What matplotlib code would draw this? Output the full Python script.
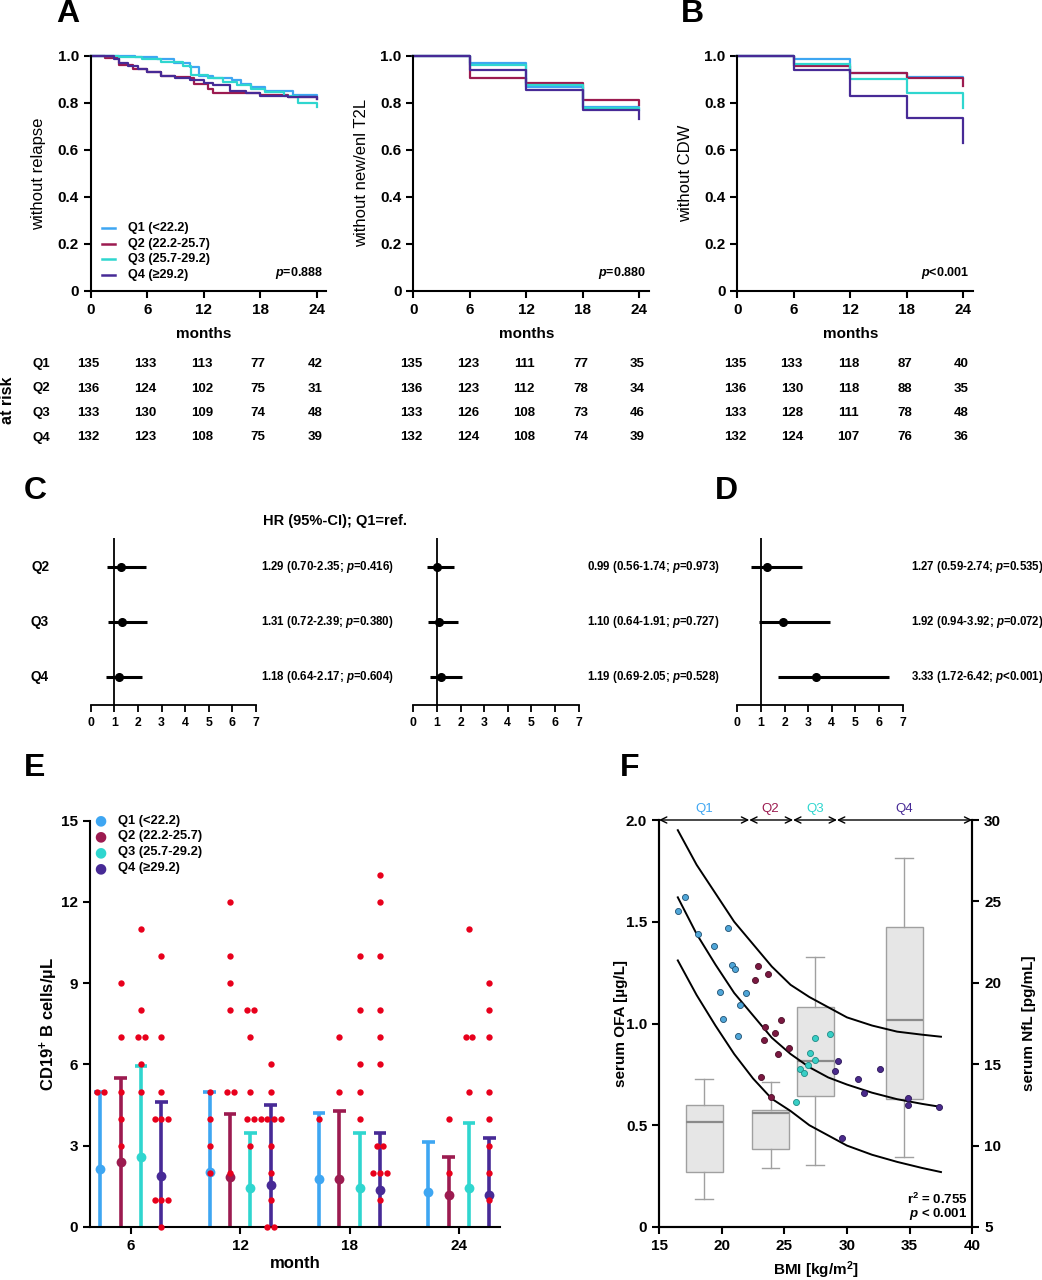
import numpy as np
import matplotlib.pyplot as plt
from matplotlib.lines import Line2D
from collections import Counter

plt.rcParams['font.family'] = ['Liberation Sans', 'DejaVu Sans']
plt.rcParams['font.weight'] = 'bold'
plt.rcParams['axes.labelweight'] = 'bold'
plt.rcParams['mathtext.fontset'] = 'custom'
plt.rcParams['mathtext.rm'] = 'Liberation Sans:bold'
plt.rcParams['mathtext.it'] = 'Liberation Sans:italic:bold'
plt.rcParams['mathtext.bf'] = 'Liberation Sans:bold'

W, H = 1042, 1280

q_names = ['Q1', 'Q2', 'Q3', 'Q4']
q_labels = ['Q1 (<22.2)', 'Q2 (22.2-25.7)', 'Q3 (25.7-29.2)', 'Q4 (≥29.2)']
q_colors = ['#3ea6f2', '#9c1b50', '#2fd6cf', '#472a96']

# ---- Kaplan-Meier: relapse (step times / survival per quartile)
rel_t = {
    'Q1': [0, 4.7, 7.0, 8.8, 10.5, 11.5, 13.0, 15.0, 16.0, 17.0, 18.5, 21.5, 24.0],
    'Q2': [0, 1.5, 3.0, 4.5, 6.0, 7.5, 9.0, 10.5, 11.0, 12.5, 13.0, 18.0, 21.0, 24.0],
    'Q3': [0, 3.0, 5.5, 7.5, 9.8, 10.6, 12.5, 14.0, 15.5, 17.0, 18.5, 20.5, 22.0, 24.0],
    'Q4': [0, 2.5, 3.0, 4.0, 5.0, 6.0, 7.5, 9.0, 10.5, 12.0, 13.0, 14.8, 16.5, 18.0, 21.0, 24.0],
}
rel_s = {
    'Q1': [1.0, 0.995, 0.985, 0.97, 0.95, 0.915, 0.905, 0.895, 0.88, 0.865, 0.85, 0.835, 0.83],
    'Q2': [1.0, 0.99, 0.96, 0.945, 0.93, 0.915, 0.91, 0.905, 0.88, 0.86, 0.84, 0.835, 0.825, 0.815],
    'Q3': [1.0, 0.995, 0.985, 0.975, 0.955, 0.92, 0.905, 0.89, 0.875, 0.86, 0.845, 0.83, 0.80, 0.78],
    'Q4': [1.0, 0.985, 0.97, 0.955, 0.945, 0.93, 0.915, 0.905, 0.895, 0.885, 0.875, 0.85, 0.84, 0.83, 0.825, 0.815],
}
# new/enlarging T2L and CDW: assessed at visits
visit_t = [0, 6, 12, 18, 24]
t2l_s = {
    'Q1': [1.0, 0.97, 0.866, 0.783, 0.775],
    'Q2': [1.0, 0.905, 0.882, 0.81, 0.79],
    'Q3': [1.0, 0.959, 0.874, 0.778, 0.77],
    'Q4': [1.0, 0.939, 0.854, 0.77, 0.73],
}
cdw_s = {
    'Q1': [1.0, 0.985, 0.925, 0.908, 0.905],
    'Q2': [1.0, 0.956, 0.925, 0.904, 0.87],
    'Q3': [1.0, 0.965, 0.901, 0.843, 0.778],
    'Q4': [1.0, 0.939, 0.830, 0.735, 0.627],
}
p_km = ['=0.888', '=0.880', '<0.001']
ylabels_km = ['without relapse', 'without new/enl T2L', 'without CDW']

at_risk = [
    {'Q1': [135, 133, 113, 77, 42], 'Q2': [136, 124, 102, 75, 31],
     'Q3': [133, 130, 109, 74, 48], 'Q4': [132, 123, 108, 75, 39]},
    {'Q1': [135, 123, 111, 77, 35], 'Q2': [136, 123, 112, 78, 34],
     'Q3': [133, 126, 108, 73, 46], 'Q4': [132, 124, 108, 74, 39]},
    {'Q1': [135, 133, 118, 87, 40], 'Q2': [136, 130, 118, 88, 35],
     'Q3': [133, 128, 111, 78, 48], 'Q4': [132, 124, 107, 76, 36]},
]

# ---- forest plots (Q2..Q4 vs Q1)
hr = [[1.29, 1.31, 1.18], [0.99, 1.10, 1.19], [1.27, 1.92, 3.33]]
hr_lo = [[0.70, 0.72, 0.64], [0.56, 0.64, 0.69], [0.59, 0.94, 1.72]]
hr_hi = [[2.35, 2.39, 2.17], [1.74, 1.91, 2.05], [2.74, 3.92, 6.42]]
hr_p = [['=0.416', '=0.380', '=0.604'], ['=0.973', '=0.727', '=0.528'],
        ['=0.535', '=0.072', '<0.001']]

# ---- CD19+ B cells
months = ['6', '12', '18', '24']
b_mean = {'Q1': [2.14, 2.03, 1.76, 1.29], 'Q2': [2.39, 1.85, 1.76, 1.17],
          'Q3': [2.57, 1.44, 1.45, 1.45], 'Q4': [1.88, 1.56, 1.35, 1.17]}
b_sd = {'Q1': [2.83, 2.97, 2.44, 1.86], 'Q2': [3.12, 2.32, 2.51, 1.41],
        'Q3': [3.39, 2.04, 2.03, 2.40], 'Q4': [2.75, 2.96, 2.13, 2.12]}
b_ind = {
    'Q1': [[5, 5], [5, 4, 3, 2], [4], []],
    'Q2': [[9, 7, 5, 4, 3], [12, 10, 9, 8, 5, 5, 2], [7, 5], [4, 2]],
    'Q3': [[11, 8, 7, 7, 6, 5], [8, 8, 7, 5, 4, 4, 3], [10, 8, 6, 5, 4], [11, 7, 7, 5]],
    'Q4': [[10, 7, 5, 4, 4, 4, 1, 1, 1, 0], [6, 5, 4, 4, 4, 4, 3, 2, 1, 0, 0],
           [13, 12, 10, 8, 7, 6, 3, 3, 2, 2, 2, 1], [9, 8, 7, 5, 4, 3, 2, 1]],
}

# ---- serum OFA vs BMI, NfL boxes
ofa_bmi = {
    'Q1': [16.49, 17.07, 18.09, 19.36, 20.48, 20.85, 21.06, 19.89, 21.97, 21.46, 20.08, 21.28],
    'Q2': [22.90, 23.67, 22.66, 24.76, 23.46, 24.26, 23.35, 25.37, 24.47, 23.17, 23.96],
    'Q3': [28.64, 27.47, 27.05, 27.47, 26.86, 26.25, 26.57, 25.96],
    'Q4': [29.26, 29.07, 32.66, 30.85, 31.38, 34.87, 34.87, 37.37, 29.57],
}
ofa_val = {
    'Q1': [1.551, 1.623, 1.438, 1.381, 1.471, 1.289, 1.268, 1.153, 1.148, 1.091, 1.022, 0.939],
    'Q2': [1.281, 1.245, 1.215, 1.016, 0.984, 0.955, 0.921, 0.881, 0.848, 0.739, 0.637],
    'Q3': [0.947, 0.930, 0.853, 0.819, 0.794, 0.775, 0.755, 0.616],
    'Q4': [0.817, 0.767, 0.775, 0.726, 0.658, 0.632, 0.600, 0.590, 0.436],
}
# regression line and its band
fit_bmi = [16.5, 18.0, 19.5, 21.0, 22.5, 24.0, 25.5, 27.0, 28.5, 30.0, 32.0, 34.0, 36.0, 37.5]
fit_mid = [1.62, 1.44, 1.29, 1.15, 1.04, 0.93, 0.85, 0.785, 0.735, 0.70, 0.66, 0.628, 0.605, 0.59]
fit_hi = [1.95, 1.78, 1.64, 1.50, 1.39, 1.28, 1.19, 1.13, 1.08, 1.03, 0.99, 0.96, 0.945, 0.935]
fit_lo = [1.31, 1.14, 0.99, 0.85, 0.73, 0.63, 0.57, 0.50, 0.45, 0.40, 0.355, 0.32, 0.29, 0.27]
q_bounds = [15, 22.2, 25.7, 29.2, 40]
box_pos = [18.6, 23.9, 27.45, 34.57]
nfl_whislo = [6.70, 8.60, 8.81, 9.32]
nfl_q1 = [8.40, 9.77, 13.05, 12.84]
nfl_med = [11.45, 12.02, 15.22, 17.71]
nfl_q3 = [12.49, 12.19, 18.49, 23.45]
nfl_whishi = [14.09, 13.89, 21.60, 27.69]

f_face = ['#4fa6d8', '#7a1840', '#38cfc6', '#4a2a8c']
f_edge = ['#1f4f70', '#4a0f28', '#1f8a85', '#2a1555']


fig = plt.figure(figsize=(W / 100, H / 100), dpi=100)


def px_axes(x0, y0, x1, y1):
    return fig.add_axes([x0 / W, 1 - y1 / H, (x1 - x0) / W, (y1 - y0) / H])


def ftext(x, y, s, **kw):
    fig.text(x / W, 1 - y / H, s, **kw)


def clean(ax, lw=1.5):
    ax.spines['top'].set_visible(False)
    ax.spines['right'].set_visible(False)
    for sp in ['left', 'bottom']:
        ax.spines[sp].set_linewidth(lw)
    ax.tick_params(width=lw, length=5)


# ================= A / B : Kaplan-Meier =================
km_x0 = [90.7, 413.3, 737.3]
mpx = 9.417  # px per month
km_data = [(rel_t, rel_s), (None, t2l_s), (None, cdw_s)]
for k in range(3):
    x0 = km_x0[k]
    ax = px_axes(x0, 55.7, x0 + 25 * mpx, 291)
    clean(ax)
    tt, ss = km_data[k]
    for q, name in enumerate(q_names):
        t = tt[name] if tt is not None else visit_t
        ax.step(t, ss[name], where='post', color=q_colors[q], lw=1.6, clip_on=False)
    ax.set_xlim(0, 25)
    ax.set_ylim(0, 1.0)
    ax.set_xticks([0, 6, 12, 18, 24])
    ax.set_yticks([0, 0.2, 0.4, 0.6, 0.8, 1.0])
    ax.set_yticklabels(['0', '0.2', '0.4', '0.6', '0.8', '1.0'])
    ax.tick_params(labelsize=11)
    ax.set_ylabel(ylabels_km[k], fontsize=12, fontweight='normal')
    ax.yaxis.set_label_coords(-0.19, 0.5)
    ax.set_xlabel('months', fontsize=11)
    ax.xaxis.set_label_coords(0.48, -0.155)
    ax.text(0.987, 0.076, '$p$' + p_km[k], transform=ax.transAxes,
            ha='right', va='center', fontsize=9)
    # at-risk table
    for r, name in enumerate(q_names):
        y = 364 + r * 24.5
        if k == 0:
            ftext(41, y, name, ha='center', va='center', fontsize=9.5)
        for j, tm in enumerate(visit_t):
            ftext(x0 + tm * mpx - 2, y, str(at_risk[k][name][j]),
                  ha='center', va='center', fontsize=9.5)
ftext(8, 400, 'at risk', rotation=90, ha='center', va='center', fontsize=11.5)

# legend of A (drawn by hand, as in the figure)
for q in range(4):
    y = 228 + q * 15.6
    fig.add_artist(Line2D([102 / W, 115 / W], [1 - y / H] * 2, color=q_colors[q], lw=1.8,
                          transform=fig.transFigure))
    ftext(128, y, q_labels[q], ha='left', va='center', fontsize=9.1)

# ================= C / D : forest plots =================
fp_x0 = [90.7, 413.3, 737.3]
fp_txt = [261, 587, 911]
rows = [2.5, 1.5, 0.5]
for k in range(3):
    x0 = fp_x0[k]
    ax = px_axes(x0, 538, x0 + 7 * 23.6, 705)
    ax.spines['top'].set_visible(False)
    ax.spines['right'].set_visible(False)
    ax.spines['left'].set_visible(False)
    ax.spines['bottom'].set_linewidth(1.3)
    ax.tick_params(axis='x', width=1.3, length=5, labelsize=8.8)
    ax.set_yticks([])
    ax.set_xlim(0, 7)
    ax.set_ylim(0, 3.03)
    ax.set_xticks(range(8))
    ax.axvline(1, color='black', lw=1.3)
    for i in range(3):
        ax.plot([hr_lo[k][i], hr_hi[k][i]], [rows[i], rows[i]], color='black', lw=2.2,
                solid_capstyle='butt')
        ax.plot(hr[k][i], rows[i], 'o', color='black', ms=5.5)
        ftext(fp_txt[k], 567 + i * 55, '%.2f (%.2f-%.2f; $p$%s)' %
              (hr[k][i], hr_lo[k][i], hr_hi[k][i], hr_p[k][i]),
              ha='left', va='center', fontsize=8.3)
        if k == 0:
            ftext(40, 567 + i * 55, q_names[i + 1], ha='center', va='center', fontsize=9.8)
ftext(263, 521, 'HR (95%-CI); Q1=ref.', ha='left', va='center', fontsize=10.5)

# ================= E : CD19+ B cells =================
ax = px_axes(90, 820.7, 500, 1227)
clean(ax)
off = 0.186
for q, name in enumerate(q_names):
    xs = np.arange(4) + (q - 1.5) * off
    m = np.array(b_mean[name])
    sd = np.array(b_sd[name])
    ax.vlines(xs, np.maximum(m - sd, 0), m + sd, color=q_colors[q], lw=2.6, zorder=2)
    ax.hlines(m + sd, xs - 0.058, xs + 0.058, color=q_colors[q], lw=2.6, zorder=2)
    ax.scatter(xs, m, s=50, color=q_colors[q], zorder=3, linewidths=0)
    for j in range(4):
        cnt = Counter(b_ind[name][j])
        for val, n in cnt.items():
            dx = (np.arange(n) - (n - 1) / 2) * 0.062
            ax.scatter(xs[j] + dx, [val] * n, s=21, color='#e8001c', zorder=4,
                       linewidths=0, clip_on=False)
ax.set_xlim(-0.375, 3.376)
ax.set_ylim(0, 15)
ax.set_xticks(range(4))
ax.set_xticklabels(months)
ax.set_yticks([0, 3, 6, 9, 12, 15])
ax.tick_params(labelsize=11)
ax.set_ylabel('CD19$^{+}$ B cells/µL', fontsize=12)
ax.yaxis.set_label_coords(-0.073, 0.5)
ax.set_xlabel('month', fontsize=12)
ax.xaxis.set_label_coords(0.5, -0.072)
for q in range(4):
    y = 820.7 + q * 15.8
    ftext(100, y, '●', color=q_colors[q], ha='center', va='center', fontsize=10,
          family='DejaVu Sans')
    ftext(118, y, q_labels[q], ha='left', va='center', fontsize=9.3)

# ================= F : OFA vs BMI =================
ax = px_axes(659, 820, 972.3, 1227)
ax2 = ax.twinx()
ax.set_zorder(ax2.get_zorder() + 1)
ax.patch.set_visible(False)
for a in (ax, ax2):
    a.spines['top'].set_visible(False)
    for sp in ['left', 'right', 'bottom']:
        a.spines[sp].set_linewidth(1.5)
    a.tick_params(width=1.5, length=5, labelsize=11)

stats = []
for i in range(4):
    stats.append({'whislo': nfl_whislo[i], 'q1': nfl_q1[i], 'med': nfl_med[i],
                  'q3': nfl_q3[i], 'whishi': nfl_whishi[i], 'fliers': []})
ax2.bxp(stats, positions=box_pos, widths=2.95, patch_artist=True, showfliers=False,
        manage_ticks=False, capwidths=1.4,
        boxprops=dict(facecolor='#e6e6e6', edgecolor='#a0a0a0', lw=1.0),
        whiskerprops=dict(color='#a0a0a0', lw=1.0),
        capprops=dict(color='#a0a0a0', lw=1.0),
        medianprops=dict(color='#8a8a8a', lw=1.6))
ax2.set_ylim(5, 30)
ax2.set_yticks([5, 10, 15, 20, 25, 30])
ax2.set_ylabel('serum NfL [pg/mL]', fontsize=11)
ax2.yaxis.set_label_coords(1.16, 0.5)

for fc in (fit_hi, fit_mid, fit_lo):
    ax.plot(fit_bmi, fc, color='black', lw=1.4, zorder=3)
for q, name in enumerate(q_names):
    ax.scatter(ofa_bmi[name], ofa_val[name], s=19, color=f_face[q], edgecolors=f_edge[q],
               linewidths=0.6, zorder=4)
ax.set_xlim(15, 40)
ax.set_ylim(0, 2.0)
ax.set_xticks([15, 20, 25, 30, 35, 40])
ax.set_yticks([0, 0.5, 1.0, 1.5, 2.0])
ax.set_yticklabels(['0', '0.5', '1.0', '1.5', '2.0'])
ax.set_ylabel('serum OFA [µg/L]', fontsize=11)
ax.yaxis.set_label_coords(-0.099, 0.5)
ax.set_xlabel('BMI [kg/m$^{2}$]', fontsize=11)
ax.xaxis.set_label_coords(0.5, -0.079)
for i in range(4):
    ax.annotate('', xy=(q_bounds[i + 1], 2.0), xytext=(q_bounds[i], 2.0),
                arrowprops=dict(arrowstyle='<->,head_length=0.45,head_width=0.22',
                                lw=1.0, color='black', shrinkA=0, shrinkB=0),
                annotation_clip=False)
    ax.text(box_pos[i], 2.055, q_names[i], color=q_colors[i], ha='center', va='center',
            fontsize=9.5, fontweight='normal')
ax.text(39.6, 0.138, 'r$^{2}$ = 0.755', ha='right', va='center', fontsize=9.5)
ax.text(39.6, 0.064, '$p$ < 0.001', ha='right', va='center', fontsize=9.5)

# panel letters
for lab, x, y in [('A', 56, 14), ('B', 681, 14), ('C', 24, 491), ('D', 715, 491),
                  ('E', 24, 768), ('F', 620, 768)]:
    ftext(x, y, lab, ha='left', va='center', fontsize=23)

fig.savefig('out.png', dpi=100)
